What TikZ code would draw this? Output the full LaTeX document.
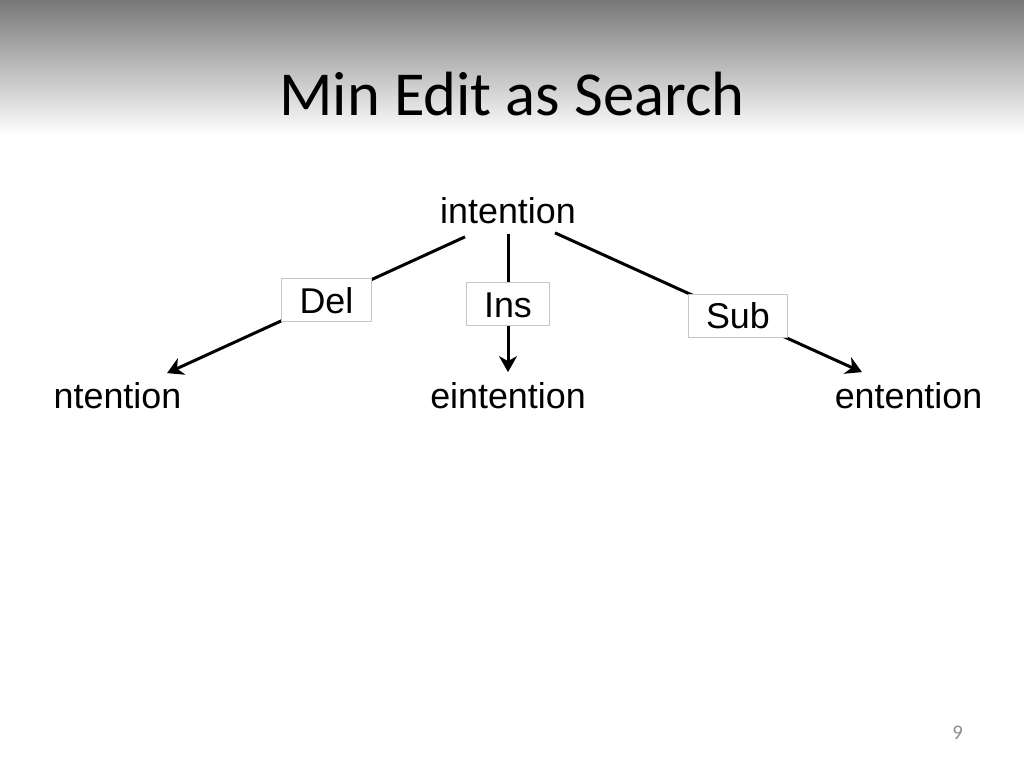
\documentclass[tikz,border=0pt]{standalone}
\usepackage{fontspec}
\setmainfont{Liberation Sans}
\newfontfamily\slidefont{Carlito}
\usetikzlibrary{positioning}
\usetikzlibrary{arrows.meta}

\begin{document}
\begin{tikzpicture}[
  x=0.1mm, y=-0.1mm,
  on grid,
  word/.style={font=\fontsize{10.2}{12}\selectfont, inner sep=0pt},
  opbox/.style={draw=black!22, line width=0.25pt, fill=white,
    font=\fontsize{10.2}{12}\selectfont, text height=2.6mm, text depth=0pt,
    inner xsep=1.8mm, inner ysep=0.85mm},
  op/.style={line width=0.3mm, -{Stealth[length=1.6mm,width=1.8mm,inset=0.5mm]}}
]
  \useasboundingbox (0,0) rectangle (1024,768);
  \shade[top color=black!53, bottom color=white] (0,0) rectangle (1024,135);

  \node[anchor=base, font=\slidefont\fontsize{17.8}{20}\selectfont] (title) at (512,116) {Min Edit as Search};
  \node[anchor=base, text=black!45, font=\slidefont\fontsize{5.9}{7}\selectfont] (page) at (957.5,739) {9};

  \node[word] (intention) at (508,211) {intention};
  \node[word, below=18.5mm of intention] (eintention) {eintention};
  \node[word, left=39.05mm of eintention] (ntention) {ntention};
  \node[word, right=40.05mm of eintention] (entention) {entention};

  \path ([xshift=-4.3mm,yshift=-1.2mm]intention.south) edge[op] node[opbox, pos=.465] {Del} ([xshift=4.95mm,yshift=0.9mm]ntention.north)
        ([yshift=-0.9mm]intention.south) edge[op] node[opbox, pos=.51] {Ins} ([yshift=1mm]eintention.north)
        ([xshift=4.7mm,yshift=-0.8mm]intention.south) edge[op] node[opbox, pos=.596] {Sub} ([xshift=-4.65mm,yshift=1mm]entention.north)
  ;
\end{tikzpicture}
\end{document}
